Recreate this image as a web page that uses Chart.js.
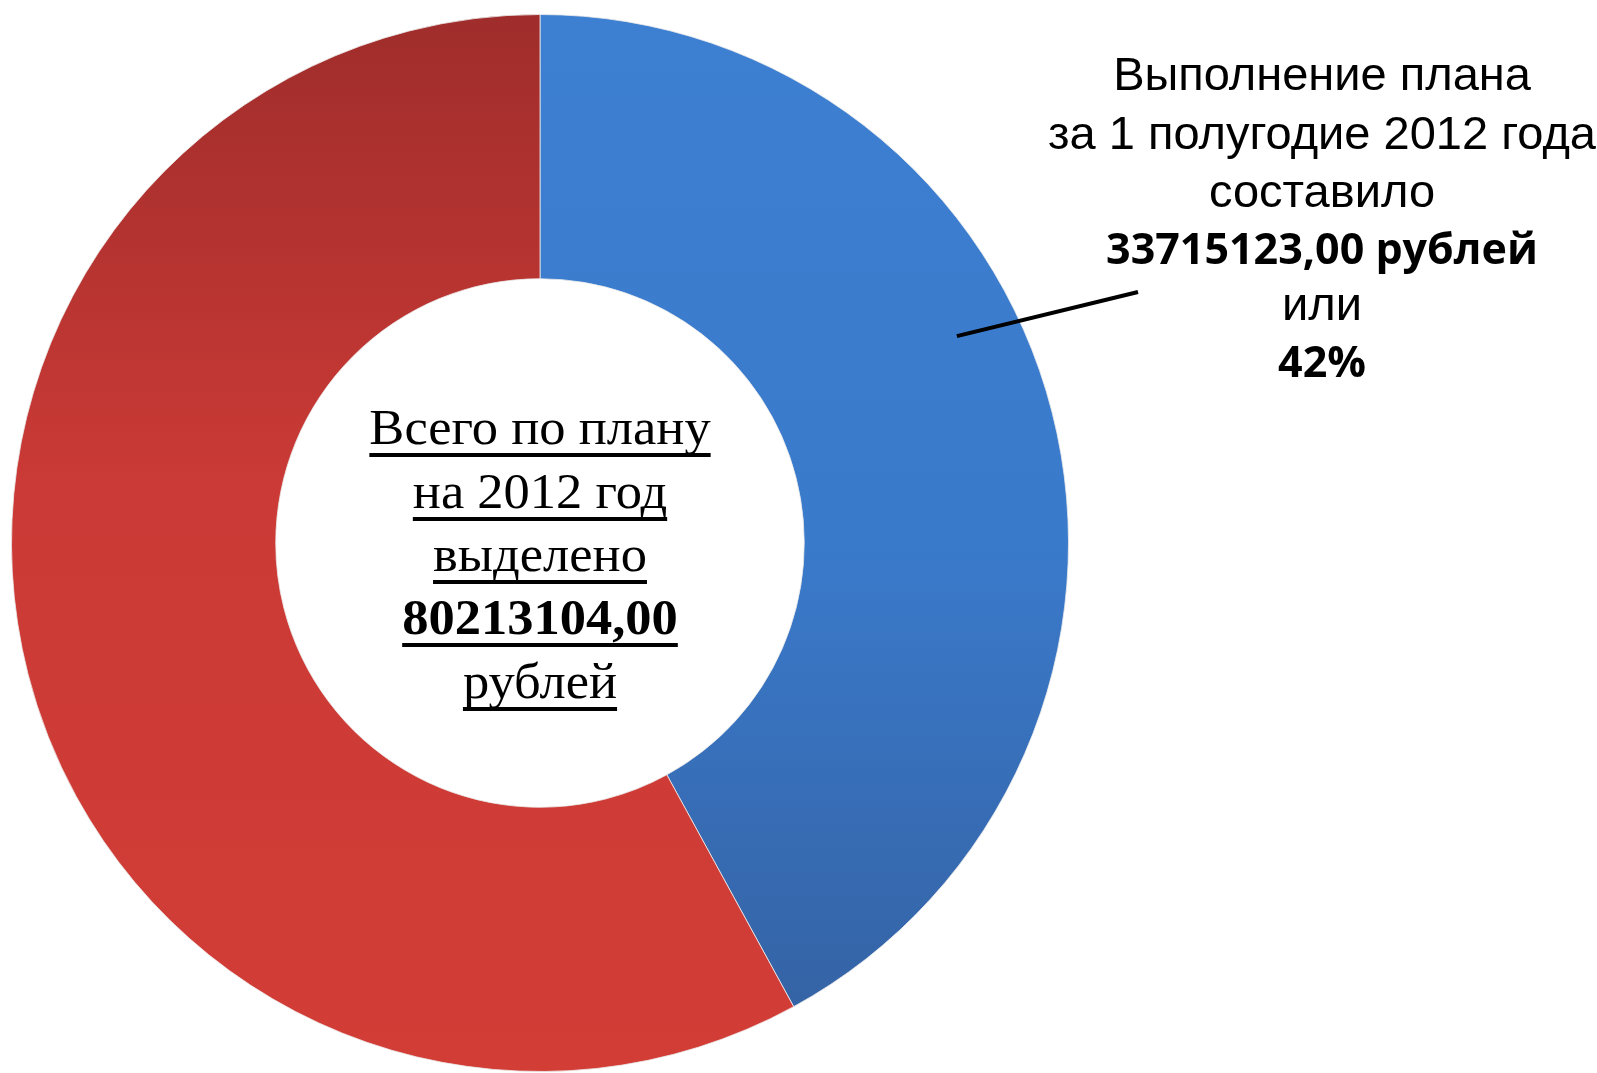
<!DOCTYPE html>
<html>
<head>
<meta charset="utf-8">
<script src="https://cdn.jsdelivr.net/npm/chart.js@4/dist/chart.umd.min.js"></script>
<style>
  body { margin: 0; background: #fff; }
  canvas { display: block; }
</style>
</head>
<body>
<canvas id="plan" width="1597" height="1073"></canvas>
<script>
// data
var categories = ['Выполнено за 1 полугодие 2012 года', 'Остаток плана на 2012 год'];
var values = [33715123.00, 46497981.00];
var planTotal = 80213104.00;

var calloutLines = ['Выполнение плана', 'за 1 полугодие 2012 года', 'составило'];
var calloutAmount = '33715123,00 рублей';
var centerLines = ['Всего по плану', 'на 2012 год', 'выделено'];
var centerAmount = '80213104,00';
var centerUnit = 'рублей';

function sliceFill(context)
{
    var chart = context.chart;
    var area = chart.chartArea;
    if (!area) return null;
    var g = chart.ctx.createLinearGradient(0, area.top, 0, area.bottom);
    if (context.dataIndex === 0) {
        g.addColorStop(0, '#3d7fd1');
        g.addColorStop(0.5, '#3a7acb');
        g.addColorStop(1, '#3460a0');
    } else {
        g.addColorStop(0, '#9f2d2b');
        g.addColorStop(0.45, '#cb3a36');
        g.addColorStop(1, '#d23d36');
    }
    return g;
}

function fmtPercent(v)
{
    return Math.round(v / planTotal * 100) + '%';
}

var textPlugin = {
    id: 'planText',
    afterDraw: function(chart) {
        var ctx = chart.ctx;
        var area = chart.chartArea;
        var cx = (area.left + area.right) / 2;
        var cy = (area.top + area.bottom) / 2;
        var R = Math.min(area.width, area.height) / 2;

        ctx.save();
        ctx.fillStyle = '#000';
        ctx.textAlign = 'center';
        ctx.textBaseline = 'alphabetic';

        // callout on the right
        var tx = 1322;
        ctx.font = '47px "Liberation Sans", Arial, sans-serif';
        ctx.fillText(calloutLines[0], tx, 90);
        ctx.fillText(calloutLines[1], tx, 149);
        ctx.fillText(calloutLines[2], tx, 207);
        ctx.font = 'bold 43px "Open Sans", sans-serif';
        ctx.fillText(calloutAmount, tx, 264);
        ctx.font = '47px "Liberation Sans", Arial, sans-serif';
        ctx.fillText('или', tx, 320);
        ctx.font = 'bold 43px "Open Sans", sans-serif';
        ctx.fillText(fmtPercent(values[0]), tx, 377);

        // leader line
        ctx.strokeStyle = '#000';
        ctx.lineWidth = 4;
        ctx.beginPath();
        ctx.moveTo(cx + 0.788 * R, cy - 0.391 * R);
        ctx.lineTo(1138, 292);
        ctx.stroke();

        // centre text, underlined
        var rows = [
            [centerLines[0], '', 444],
            [centerLines[1], '', 508],
            [centerLines[2], '', 571],
            [centerAmount, 'bold ', 634],
            [centerUnit, '', 698]
        ];
        var sx = 1.05;
        rows.forEach(function(r) {
            ctx.save();
            ctx.translate(cx, r[2]);
            ctx.scale(sx, 1);
            ctx.font = r[1] + '50px "Liberation Serif", "Times New Roman", serif';
            ctx.fillText(r[0], 0, 0);
            var w = ctx.measureText(r[0]).width;
            ctx.fillRect(-w / 2, 9, w, 4);
            ctx.restore();
        });
        ctx.restore();
    }
};

var chart = new Chart(document.getElementById('plan'), {
    type: 'doughnut',
    data: {
        labels: categories,
        datasets: [{
            data: values,
            backgroundColor: sliceFill,
            borderColor: 'rgba(235,235,235,0.8)',
            borderWidth: 1
        }]
    },
    options: {
        responsive: false,
        animation: false,
        cutout: '50%',
        layout: { padding: { left: 11, top: 14, right: 528, bottom: 1 } },
        plugins: {
            legend: { display: false },
            tooltip: { enabled: false }
        }
    },
    plugins: [textPlugin]
});
</script>
</body>
</html>
